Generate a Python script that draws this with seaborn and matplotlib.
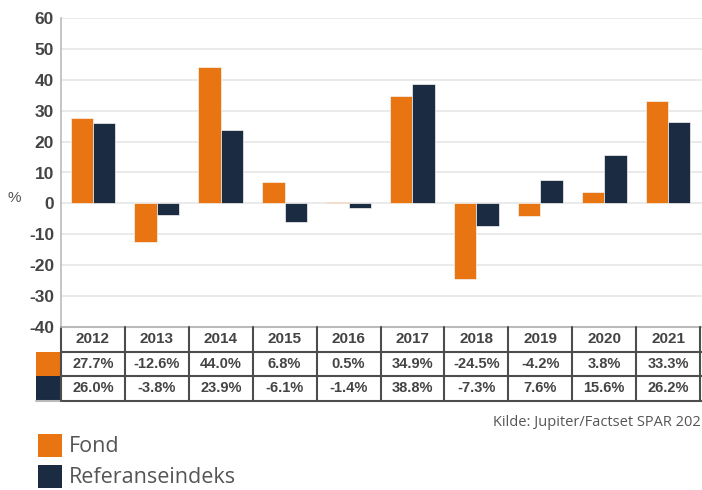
import numpy as np
import pandas as pd
import matplotlib
matplotlib.use("Agg")
import matplotlib.pyplot as plt
import matplotlib.transforms as mtransforms
from matplotlib.patches import Rectangle
import seaborn as sns

years = ["2012", "2013", "2014", "2015", "2016", "2017", "2018", "2019", "2020", "2021"]
fond = [27.7, -12.6, 44.0, 6.8, 0.5, 34.9, -24.5, -4.2, 3.8, 33.3]
referanse = [26.0, -3.8, 23.9, -6.1, -1.4, 38.8, -7.3, 7.6, 15.6, 26.2]
series = ["Fond", "Referanseindeks"]
colors = ["#E87511", "#1A2B42"]

df = pd.DataFrame({
    "year": years * 2,
    "value": fond + referanse,
    "series": [series[0]] * len(years) + [series[1]] * len(years),
})

sns.set_style("white")
plt.rcParams["font.family"] = ["Liberation Sans", "DejaVu Sans"]
plt.rcParams["axes.unicode_minus"] = False

W, H = 702, 490
fig = plt.figure(figsize=(W / 100, H / 100), dpi=100)
ax = fig.add_axes([61 / W, (H - 327) / H, (702 - 61) / W, (327 - 18) / H])

sns.barplot(data=df, x="year", y="value", hue="series", palette=colors, saturation=1,
            width=0.7, edgecolor="#f4f4f4", linewidth=0.5, legend=False, ax=ax)

ax.set_ylim(-40, 60)
ax.set_yticks(range(-40, 61, 10))
ax.set_xlim(-0.5, len(years) - 0.5 + 0.03)
ax.yaxis.grid(True, color="#e6e6e6", linewidth=1.2)
ax.set_axisbelow(True)
ax.set_xlabel("")
ax.set_ylabel("")
ax.set_xticks([])
for s in ["top", "right", "bottom"]:
    ax.spines[s].set_visible(False)
ax.spines["left"].set_color("#bbbbbb")
ax.spines["left"].set_linewidth(1.2)
ax.tick_params(axis="y", length=0, pad=5, labelsize=12.5, labelcolor="#444444")
for lab in ax.get_yticklabels():
    lab.set_fontweight("bold")

fig.text(8 / W, 1 - 198 / H, "%", fontsize=11, color="#555555", ha="left", va="center")

# table below the chart
trans = mtransforms.blended_transform_factory(ax.transData, ax.transAxes)
row_h = 24.6 / 309
tops = [0, -row_h, -2 * row_h, -3 * row_h]
line_c = "#4d4d4d"
n = len(years)
ax.plot([-0.5, n - 0.5 + 0.03], [0, 0], transform=trans, color="#bbbbbb", lw=1.5, clip_on=False)
for y in tops[1:]:
    ax.plot([-0.5, n - 0.5 + 0.03], [y, y], transform=trans, color=line_c, lw=1.5, clip_on=False)
ax.plot([-0.89, -0.5], [tops[3], tops[3]], transform=trans, color="#bbbbbb", lw=1.5, clip_on=False)
for i in range(n + 1):
    ax.plot([i - 0.5, i - 0.5], [0, tops[3]], transform=trans, color=line_c, lw=1.5, clip_on=False)

sw = 0.39
for r, c in enumerate(colors):
    ax.add_patch(Rectangle((-0.5 - sw, tops[r + 2]), sw, row_h, transform=trans,
                           facecolor=c, edgecolor="none", clip_on=False))

rows = [years,
        [f"{v:.1f}%" for v in fond],
        [f"{v:.1f}%" for v in referanse]]
for r, vals in enumerate(rows):
    yc = (tops[r] + tops[r + 1]) / 2
    for i, txt in enumerate(vals):
        ax.text(i, yc, txt, transform=trans, ha="center", va="center",
                fontsize=11 if r == 0 else 10.5, fontweight="bold", color="#444444")

fig.text(701 / W, 1 - 422 / H, "Kilde: Jupiter/Factset SPAR 202", fontsize=10.5,
         color="#555555", ha="right", va="center", family=["Open Sans", "DejaVu Sans"])

# legend
for k, (name, c) in enumerate(zip(series, colors)):
    y0 = 434 + k * 31
    fig.patches.append(Rectangle((38 / W, 1 - (y0 + 23) / H), 24 / W, 23 / H,
                                 transform=fig.transFigure, facecolor=c, edgecolor="none"))
    fig.text(69 / W, 1 - (y0 + 12) / H, name, fontsize=15.5, color="#555555",
             ha="left", va="center", family=["Open Sans", "DejaVu Sans"])

fig.savefig("out.png", dpi=100)
